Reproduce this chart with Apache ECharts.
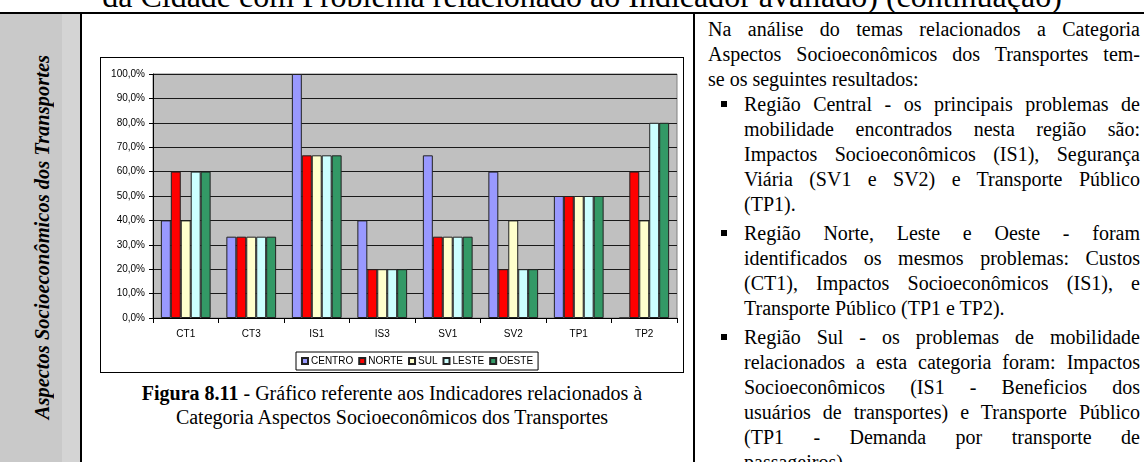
<!DOCTYPE html>
<html>
<head>
<meta charset="utf-8">
<script src="https://cdn.jsdelivr.net/npm/echarts@6/dist/echarts.min.js"></script>
<style>
  html, body { margin: 0; padding: 0; background: #fff; }
  body { width: 1144px; height: 462px; position: relative; overflow: hidden; font-family: "Liberation Serif", serif; color: #000; }
  .abs { position: absolute; }
  #header { left: 10px; top: -20px; width: 1144px; text-align: center; font-size: 32px; line-height: 32px; white-space: nowrap; }
  #topline { left: 0; top: 12px; width: 1144px; height: 2px; background: #000; }
  #leftcol { left: 0; top: 14px; width: 80px; height: 448px; background: linear-gradient(to right, #c9c9c9 0, #c9c9c9 62px, #d4d4d4 62px); }
  #leftline { left: 80px; top: 14px; width: 2px; height: 448px; background: #000; }
  #sidetext { left: 0; top: 14px; width: 84px; height: 446px; display: flex; align-items: center; justify-content: center; }
  #sidetext span { writing-mode: vertical-rl; transform: rotate(180deg); font-weight: bold; font-style: italic; font-size: 20.5px; white-space: nowrap; }
  #frame { left: 100px; top: 57px; width: 584px; height: 316px; border: 1px solid #000; box-sizing: border-box; }
  #chart { left: 101px; top: 58px; width: 582px; height: 314px; }
  #caption { left: 100px; top: 381px; width: 584px; text-align: center; font-size: 20px; line-height: 24px; }
  #midline { left: 693px; top: 14px; width: 2px; height: 448px; background: #000; }
  #text { left: 708px; top: 16.5px; width: 432px; font-size: 20px; line-height: 25px; }
  .j { text-align: justify; text-align-last: justify; white-space: nowrap; }
  .l { text-align: left; white-space: nowrap; }
  .item { position: relative; padding-left: 36px; margin-top: 0; }
  .item.gap { margin-top: 4px; }
  .item::before { content: ""; position: absolute; left: 13px; top: 9px; width: 6px; height: 6px; background: #000; }
</style>
</head>
<body>
<div id="header" class="abs">da Cidade com Problema relacionado ao Indicador avaliado) (continuação)</div>
<div id="topline" class="abs"></div>
<div id="leftcol" class="abs"></div>
<div id="leftline" class="abs"></div>
<div id="sidetext" class="abs"><span>Aspectos Socioeconômicos dos Transportes</span></div>
<div id="frame" class="abs"></div>
<div id="chart" class="abs"></div>
<div id="caption" class="abs"><b>Figura 8.11</b> - Gráfico referente aos Indicadores relacionados à<br>Categoria Aspectos Socioeconômicos dos Transportes</div>
<div id="midline" class="abs"></div>
<div id="text" class="abs">
  <div class="j">Na análise do temas relacionados a Categoria</div>
  <div class="j">Aspectos Socioeconômicos dos Transportes tem-</div>
  <div class="l">se os seguintes resultados:</div>
  <div class="item">
    <div class="j">Região Central - os principais problemas de</div>
    <div class="j">mobilidade encontrados nesta região são:</div>
    <div class="j">Impactos Socioeconômicos (IS1), Segurança</div>
    <div class="j">Viária (SV1 e SV2) e Transporte Público</div>
    <div class="l">(TP1).</div>
  </div>
  <div class="item gap">
    <div class="j">Região Norte, Leste e Oeste - foram</div>
    <div class="j">identificados os mesmos problemas: Custos</div>
    <div class="j">(CT1), Impactos Socioeconômicos (IS1), e</div>
    <div class="l">Transporte Público (TP1 e TP2).</div>
  </div>
  <div class="item gap">
    <div class="j">Região Sul - os problemas de mobilidade</div>
    <div class="j">relacionados a esta categoria foram: Impactos</div>
    <div class="j">Socioeconômicos (IS1 - Beneficios dos</div>
    <div class="j">usuários de transportes) e Transporte Público</div>
    <div class="j">(TP1 - Demanda por transporte de</div>
    <div class="l">passageiros).</div>
  </div>
</div>
<script>
const categories = ["CT1", "CT3", "IS1", "IS3", "SV1", "SV2", "TP1", "TP2"];
const regions = ["CENTRO", "NORTE", "SUL", "LESTE", "OESTE"];
const centro = [40, 33.33, 100, 40, 66.67, 60, 50, 0];
const norte = [60, 33.33, 66.67, 20, 33.33, 20, 50, 60];
const sul = [40, 33.33, 66.67, 20, 33.33, 40, 50, 40];
const leste = [60, 33.33, 66.67, 20, 33.33, 20, 50, 80];
const oeste = [60, 33.33, 66.67, 20, 33.33, 20, 50, 80];
const colors = ["#9999FF", "#FF0000", "#FFFFCC", "#CCFFFF", "#339966"];

const seriesValues = [centro, norte, sul, leste, oeste];
const axisFont = { fontFamily: "Liberation Sans", fontSize: 10, color: "#000" };

const chart = echarts.init(document.getElementById("chart"), null, { renderer: "canvas" });

chart.setOption({
  animation: false,
  grid: {
    left: 52, right: 6, top: 16, bottom: 54,
    show: true, backgroundColor: "#c0c0c0", borderColor: "#808080", borderWidth: 1,
  },
  legend: {
    data: regions,
    left: 195, top: 294,
    padding: [4, 5],
    itemWidth: 6, itemHeight: 6, itemGap: 5,
    icon: "rect",
    borderColor: "#000", borderWidth: 1, backgroundColor: "#fff",
    textStyle: { fontFamily: "Liberation Sans", fontSize: 10, color: "#000", padding: [0, 0, 0, -2] },
  },
  xAxis: {
    type: "category",
    data: categories,
    axisLine: { lineStyle: { color: "#000", width: 1 } },
    axisTick: { show: true, length: 5, alignWithLabel: false, lineStyle: { color: "#000" } },
    axisLabel: { ...axisFont, margin: 11 },
  },
  yAxis: {
    type: "value",
    min: 0, max: 100, interval: 10,
    axisLine: { show: true, lineStyle: { color: "#000", width: 1 } },
    axisTick: { show: true, length: 4, lineStyle: { color: "#000" } },
    axisLabel: { ...axisFont, margin: 8, formatter: (v) => v.toFixed(1).replace(".", ",") + "%" },
    splitLine: { lineStyle: { color: "#1a1a1a", width: 1 } },
  },
  series: regions.map((name, i) => ({
    name,
    type: "bar",
    data: seriesValues[i],
    barGap: "0%",
    barCategoryGap: "24%",
    itemStyle: { color: colors[i], borderColor: "#222", borderWidth: 1 },
  })),
});
</script>
</body>
</html>
